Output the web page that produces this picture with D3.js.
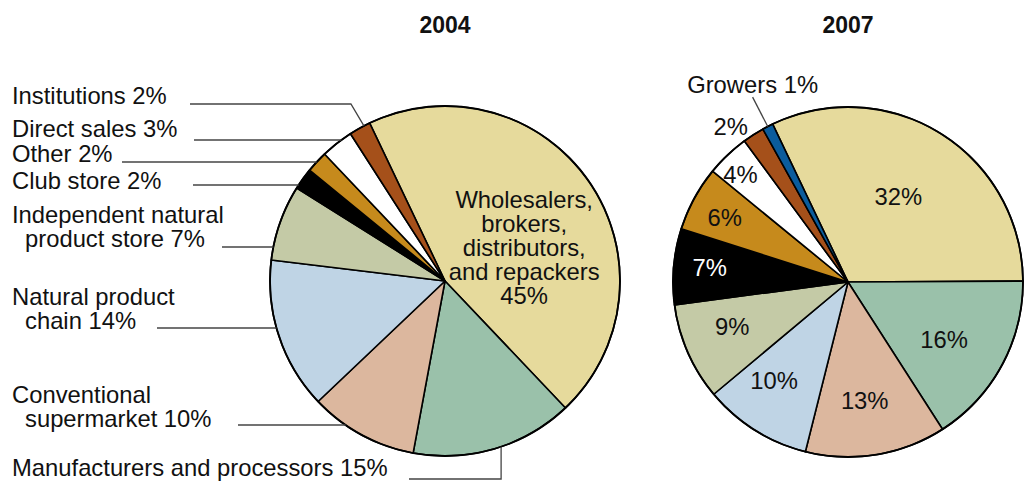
<!DOCTYPE html>
<html>
<head>
<meta charset="utf-8">
<script src="https://cdn.jsdelivr.net/npm/d3@7"></script>
<style>
  body { margin: 0; background: #fff; }
  text { font-family: "Liberation Sans", Arial, Helvetica, sans-serif; fill: #111; }
</style>
</head>
<body>
<svg id="chart" width="1029" height="481"></svg>
<script>
// categories, in clockwise order from the top of each pie
var categories = [
  "Wholesalers,\nbrokers,\ndistributors,\nand repackers",
  "Manufacturers and processors",
  "Conventional\nsupermarket",
  "Natural product\nchain",
  "Independent natural\nproduct store",
  "Club store",
  "Other",
  "Direct sales",
  "Institutions",
  "Growers"
];
var years = ["2004", "2007"];
var share2004 = [45, 15, 10, 14, 7, 2, 2, 3, 2, 0];
var share2007 = [32, 16, 13, 10, 9, 7, 6, 4, 2, 1];
var sliceColors = ["#e6da9c", "#9ac1aa", "#dcb79e", "#bfd4e5", "#c4caa6",
                   "#000000", "#c68a1c", "#ffffff", "#a5501a", "#0b5c9c"];

// layout
var R = 175;
var centers = [{ cx: 445, cy: 281 }, { cx: 848, cy: 282 }];
var rad = Math.PI / 180;
var start = -25.5 * rad;
var fontSize = 23.8, lineH = 24;

// 2004 callouts on the left (category index, text baseline, leader y, leader start x)
var callouts2004 = [
  { cat: 8, base: 104, lineY: 104, lineX: 190, bend: "diag", shift: 1.5 },
  { cat: 7, base: 137, lineY: 140, lineX: 194 },
  { cat: 6, base: 162, lineY: 162, lineX: 122 },
  { cat: 5, base: 189, lineY: 185, lineX: 193 },
  { cat: 4, base: 223, lineY: 247, lineX: 222 },
  { cat: 3, base: 305, lineY: 328, lineX: 157 },
  { cat: 2, base: 403, lineY: 425, lineX: 238 },
  { cat: 1, base: 476, lineY: 479, lineX: 409, bend: "down", shift: -2.2 }
];
// inside labels: radius and angle nudge (deg) from the slice middle
var inside2004 = { 0: [86, 11.5] };
var inside2007 = { 0: [99, -1.6], 1: [112, 2.5], 2: [120, 1.3], 3: [123, 4.9], 4: [124, 2.7],
                   5: [139, 0.9], 6: [139, -1], 7: [152, -1.5], 8: [195, -4.3] };

var svg = d3.select("#chart");
var pie = d3.pie().sort(null)
  .value(function(d) { return d.value; })
  .startAngle(start).endAngle(start + 2 * Math.PI);
var arc = d3.arc().innerRadius(0).outerRadius(R);
var color = d3.scaleOrdinal().domain(categories).range(sliceColors);

function polar(c, a, r) {
  return [c.cx + r * Math.sin(a), c.cy - r * Math.cos(a)];
}
function mid(d) { return (d.startAngle + d.endAngle) / 2; }

function drawPie(values, c, year) {
  var rows = categories.map(function(cat, i) {
    return { cat: cat, idx: i, value: values[i] };
  }).filter(function(d) { return d.value > 0; });
  var arcs = pie(rows);

  var g = svg.append("g").attr("transform", "translate(" + c.cx + "," + c.cy + ")");
  g.selectAll("path")
    .data(arcs)
    .enter()
    .append("path")
    .attr("d", arc)
    .attr("fill", function(d) { return color(d.data.cat); })
    .attr("stroke", "#000")
    .attr("stroke-width", 1.6)
    .attr("stroke-linejoin", "round");
  g.append("circle").attr("r", R).attr("fill", "none")
    .attr("stroke", "#000").attr("stroke-width", 1.8);

  svg.append("text")
    .attr("x", c.cx).attr("y", 33)
    .attr("text-anchor", "middle")
    .attr("font-size", 23).attr("font-weight", "bold")
    .text(year);
  return arcs;
}

function insideLabel(d, c, pos, lines) {
  var p = polar(c, mid(d) + pos[1] * rad, pos[0]);
  var t = svg.append("text")
    .attr("text-anchor", "middle")
    .attr("font-size", fontSize)
    .style("fill", d.data.idx === 5 ? "#fff" : "#111");
  var y0 = p[1] - (lines.length - 1) * lineH / 2 + fontSize * 0.35;
  lines.forEach(function(s, i) {
    t.append("tspan").attr("x", p[0]).attr("y", y0 + i * lineH).text(s);
  });
}

// 2004
var arcs04 = drawPie(share2004, centers[0], years[0]);
var c0 = centers[0];
arcs04.forEach(function(d) {
  if (inside2004[d.data.idx]) {
    var lines = d.data.cat.split("\n").concat([d.data.value + "%"]);
    insideLabel(d, c0, inside2004[d.data.idx], lines);
  }
});
callouts2004.forEach(function(o) {
  var d = arcs04.filter(function(a) { return a.data.idx === o.cat; })[0];
  var lines = d.data.cat.split("\n");
  lines[lines.length - 1] += " " + d.data.value + "%";
  var t = svg.append("text").attr("font-size", fontSize);
  lines.forEach(function(s, i) {
    t.append("tspan").attr("x", i === 0 ? 12 : 25).attr("y", o.base + i * lineH).text(s);
  });

  var path;
  if (o.bend === "diag") {
    var p = polar(c0, mid(d) + o.shift * rad, R);
    path = "M" + o.lineX + "," + o.lineY + "H" + (p[0] - 13) + "L" + p[0] + "," + p[1];
  } else if (o.bend === "down") {
    var q = polar(c0, mid(d) + o.shift * rad, R);
    path = "M" + o.lineX + "," + o.lineY + "H" + q[0] + "V" + q[1];
  } else {
    var dy = o.lineY - c0.cy;
    var xEnd = c0.cx - Math.sqrt(R * R - dy * dy);
    path = "M" + o.lineX + "," + o.lineY + "H" + xEnd;
  }
  svg.append("path").attr("d", path)
    .attr("fill", "none").attr("stroke", "#444").attr("stroke-width", 1.3);
});

// 2007
var c1 = centers[1];
var arcs07 = drawPie(share2007, c1, years[1]);
arcs07.forEach(function(d) {
  var pos = inside2007[d.data.idx];
  if (pos) insideLabel(d, c1, pos, [d.data.value + "%"]);
  if (d.data.idx === 9) {
    var a = polar(c1, mid(d), R);
    var b = polar(c1, mid(d), R + 33);
    svg.append("path").attr("d", "M" + a[0] + "," + a[1] + "L" + b[0] + "," + b[1])
      .attr("stroke", "#444").attr("stroke-width", 1.3);
    svg.append("text")
      .attr("x", b[0]).attr("y", b[1] - 4)
      .attr("text-anchor", "middle")
      .attr("font-size", fontSize)
      .text(d.data.cat + " " + d.data.value + "%");
  }
});
</script>
</body>
</html>
